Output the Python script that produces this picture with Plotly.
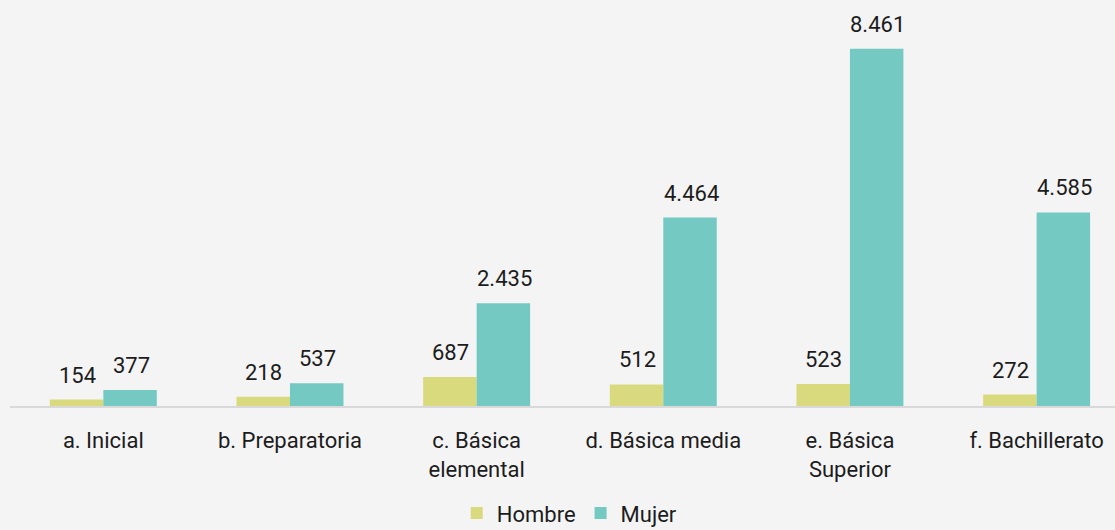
import plotly.graph_objects as go

# Nivel educativo y número de personas por sexo
niveles = ["a. Inicial", "b. Preparatoria", "c. Básica<br>elemental",
           "d. Básica media", "e. Básica<br>Superior", "f. Bachillerato"]
hombre = [154, 218, 687, 512, 523, 272]
mujer = [377, 537, 2435, 4464, 8461, 4585]

COLOR_H = "#d9da7e"
COLOR_M = "#75c9c3"
BG = "#f4f4f4"
FONT = "Roboto"
TXT = "#1c1c1c"
SIZE = 22


def fmt(v):
    return f"{v:,}".replace(",", ".")


fig = go.Figure()
fig.add_trace(go.Bar(name="Hombre", x=niveles, y=hombre, marker_color=COLOR_H,
                     marker_line_width=0))
fig.add_trace(go.Bar(name="Mujer", x=niveles, y=mujer, marker_color=COLOR_M,
                     marker_line_width=0))

# Etiquetas de valor sobre cada barra
for serie, valores, dx in (("Hombre", hombre, -26), ("Mujer", mujer, 28)):
    for cat, v in zip(niveles, valores):
        fig.add_annotation(x=cat, y=v, text=fmt(v), showarrow=False,
                           xshift=dx, yshift=10, yanchor="bottom",
                           font=dict(family=FONT, size=SIZE, color=TXT))

fig.update_layout(
    width=1115, height=530,
    margin=dict(l=10, r=0, t=26, b=124, autoexpand=False),
    paper_bgcolor=BG, plot_bgcolor=BG,
    barmode="group", bargap=0.427, bargroupgap=0,
    font=dict(family=FONT, size=SIZE, color=TXT),
    showlegend=True,
    legend=dict(orientation="h", x=0.511, xanchor="center", xref="container",
                y=-0.282, yanchor="middle", yref="paper",
                font=dict(family=FONT, size=SIZE, color=TXT),
                itemwidth=30, tracegroupgap=0, bgcolor="rgba(0,0,0,0)"),
    xaxis=dict(range=[-0.5, 5.42], showgrid=False, showline=True,
               linecolor="#d9d9d9", linewidth=2, ticks="", automargin=False,
               ticklabelstandoff=14, tickfont=dict(size=SIZE, color=TXT)),
    yaxis=dict(range=[0, 9000], visible=False, showgrid=False, zeroline=False,
               automargin=False),
)

fig.write_html("out.html")
